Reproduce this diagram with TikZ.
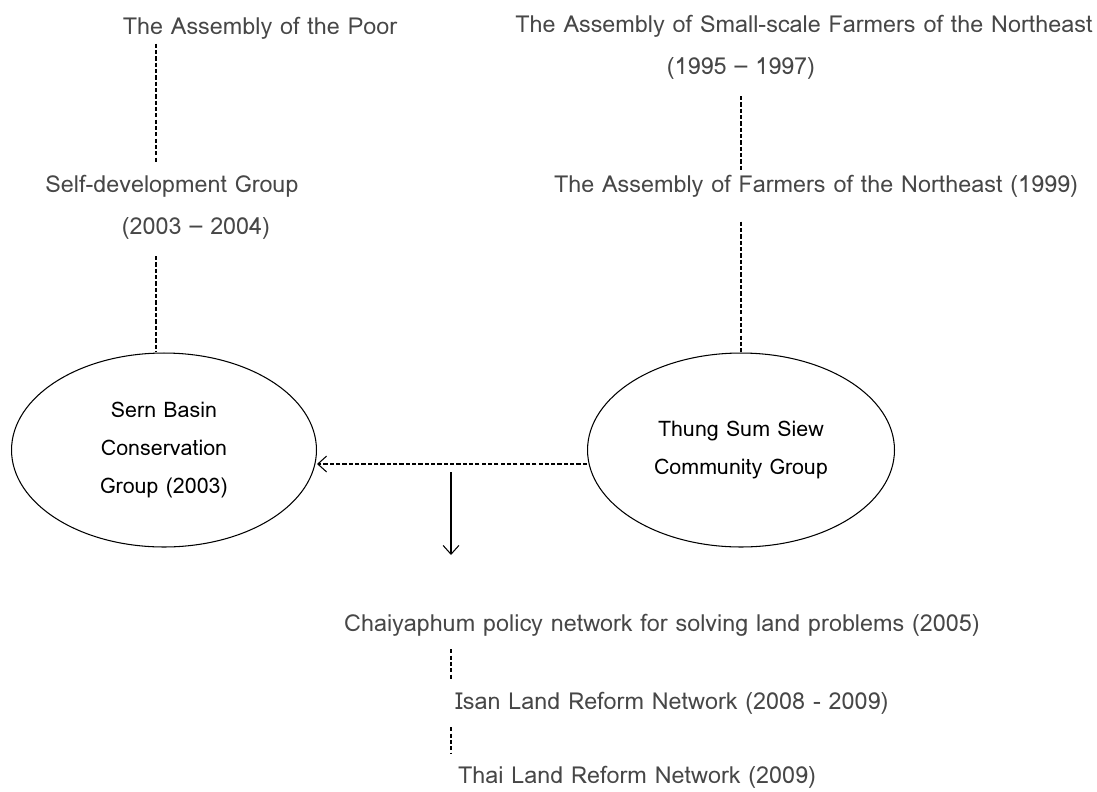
\documentclass[tikz,border=0pt]{standalone}
\usepackage{fontspec}
\newfontfamily\lomafont[Script=Thai]{Loma}
\usetikzlibrary{shapes.geometric,arrows.meta}

\tikzset{
  lbl/.style={text=black!72, font=\lomafont\fontsize{13.3}{21}\selectfont, inner sep=1pt},
  grp/.style={draw, ellipse, semithick, align=center, inner sep=0pt,
    font=\lomafont\fontsize{12.2}{21.5}\selectfont},
  link/.style={dash pattern=on 2.4pt off 1.2pt, line width=0.6pt},
  flow/.style={line width=0.6pt, -{Straight Barb[length=5pt,width=9pt]}}
}

\begin{document}
\begin{tikzpicture}[x=0.02cm, y=-0.02cm]
      \useasboundingbox (0,0) rectangle (1097,791);
      % left branch
      \node[lbl] (poor) at (260,28) {The Assembly of the Poor};
      \node[lbl] (selfdev) at (172,186) {Self-development Group};
      \node[lbl] (selfyrs) at (196,228) {(2003 – 2004)};
      \node[grp, minimum width=6.1cm, minimum height=3.88cm] (sern) at (164,450)
        {Sern Basin\\Conservation\\Group (2003)};
      % right branch
      \node[lbl] (small) at (804,26) {The Assembly of Small-scale Farmers of the Northeast};
      \node[lbl] (smallyrs) at (741,68) {(1995 – 1997)};
      \node[lbl] (farmers) at (816,186) {The Assembly of Farmers of the Northeast (1999)};
      \node[grp, minimum width=6.14cm, minimum height=3.88cm] (thung) at (741,450)
        {Thung Sum Siew\\Community Group};
      % networks
      \node[lbl] (chai) at (662,625) {Chaiyaphum policy network for solving land problems (2005)};
      \node[lbl] (isan) at (672,703) {Isan Land Reform Network (2008 - 2009)};
      \node[lbl] (thai) at (637,777) {Thai Land Reform Network (2009)};

      \coordinate (colL) at (156,0);
      \coordinate (colD) at (451,0);
      \coordinate (drop) at (451,472);

      \draw[link] ([yshift=-0.05cm]poor.south -| colL) -- ([yshift=0.2cm]selfdev.north -| colL);
      \draw[link] ([yshift=-0.3cm]selfyrs.south -| colL) -- (sern.north -| colL);
      \draw[link] ([yshift=-0.3cm]smallyrs.south) -- ([yshift=0.02cm]farmers.north -| smallyrs.south);
      \draw[link] ([yshift=-0.45cm]farmers.south -| thung.north) -- (thung.north);
      \draw[flow, link] (thung.west |- 0,464) -- (sern.east |- 0,464);
      \draw[flow] (drop) -- (drop |- 0,555);
      \draw[link] ([yshift=-0.22cm]chai.south -| colD) -- ([yshift=0.22cm]isan.north -| colD);
      \draw[link] ([yshift=-0.22cm]isan.south -| colD) -- ([yshift=0.22cm]thai.north -| colD);
\end{tikzpicture}
\end{document}
